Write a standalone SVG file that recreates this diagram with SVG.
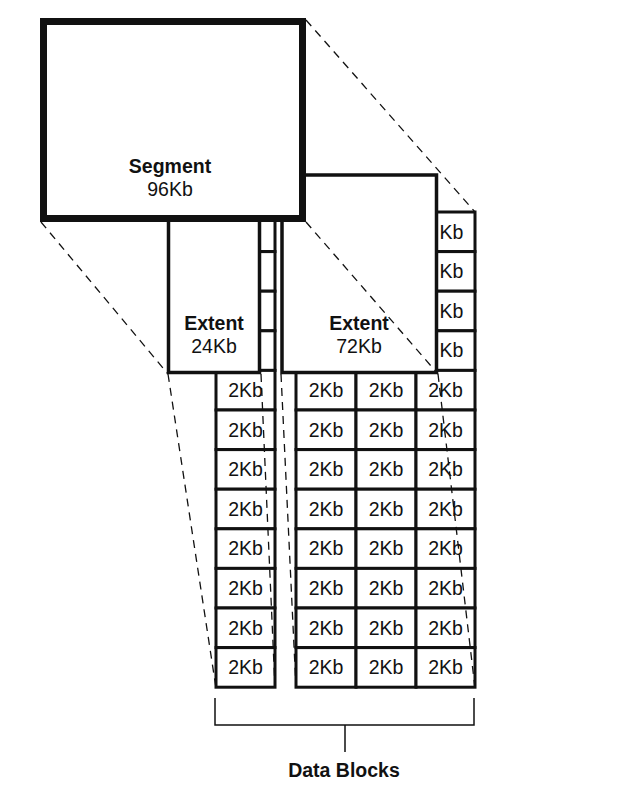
<svg xmlns="http://www.w3.org/2000/svg" width="640" height="786" viewBox="0 0 640 786">
<style>
.t{font-family:"Liberation Sans",Arial,sans-serif;font-size:19.5px;fill:#111;text-anchor:middle}
.s{text-anchor:start}
.b{font-weight:bold}
.cell{fill:#fff;stroke:#111;stroke-width:3}
.box{fill:#fff;stroke:#111;stroke-width:3.5}
.dash{fill:none;stroke:#111;stroke-width:1.3;stroke-dasharray:8 6}
</style>
<rect width="640" height="786" fill="#fff"/>
<g id="blocks-left">
<rect class="cell" x="216" y="212" width="59" height="39.6"/>
<rect class="cell" x="216" y="251.6" width="59" height="39.6"/>
<rect class="cell" x="216" y="291.2" width="59" height="39.6"/>
<rect class="cell" x="216" y="330.8" width="59" height="39.6"/>
<rect class="cell" x="216" y="370.4" width="59" height="39.6"/>
<rect class="cell" x="216" y="410" width="59" height="39.6"/>
<rect class="cell" x="216" y="449.6" width="59" height="39.6"/>
<rect class="cell" x="216" y="489.2" width="59" height="39.6"/>
<rect class="cell" x="216" y="528.8" width="59" height="39.6"/>
<rect class="cell" x="216" y="568.4" width="59" height="39.6"/>
<rect class="cell" x="216" y="608" width="59" height="39.6"/>
<rect class="cell" x="216" y="647.6" width="59" height="39.6"/>
<text class="t" x="245.5" y="397">2Kb</text>
<text class="t" x="245.5" y="436.6">2Kb</text>
<text class="t" x="245.5" y="476.2">2Kb</text>
<text class="t" x="245.5" y="515.8">2Kb</text>
<text class="t" x="245.5" y="555.4">2Kb</text>
<text class="t" x="245.5" y="595">2Kb</text>
<text class="t" x="245.5" y="634.6">2Kb</text>
<text class="t" x="245.5" y="674.2">2Kb</text>
</g>
<g id="blocks-right">
<rect class="cell" x="416" y="212" width="59" height="39.6"/>
<rect class="cell" x="416" y="251.6" width="59" height="39.6"/>
<rect class="cell" x="416" y="291.2" width="59" height="39.6"/>
<rect class="cell" x="416" y="330.8" width="59" height="39.6"/>
<rect class="cell" x="296" y="370.4" width="60" height="39.6"/><rect class="cell" x="356" y="370.4" width="60" height="39.6"/><rect class="cell" x="416" y="370.4" width="59" height="39.6"/>
<rect class="cell" x="296" y="410" width="60" height="39.6"/><rect class="cell" x="356" y="410" width="60" height="39.6"/><rect class="cell" x="416" y="410" width="59" height="39.6"/>
<rect class="cell" x="296" y="449.6" width="60" height="39.6"/><rect class="cell" x="356" y="449.6" width="60" height="39.6"/><rect class="cell" x="416" y="449.6" width="59" height="39.6"/>
<rect class="cell" x="296" y="489.2" width="60" height="39.6"/><rect class="cell" x="356" y="489.2" width="60" height="39.6"/><rect class="cell" x="416" y="489.2" width="59" height="39.6"/>
<rect class="cell" x="296" y="528.8" width="60" height="39.6"/><rect class="cell" x="356" y="528.8" width="60" height="39.6"/><rect class="cell" x="416" y="528.8" width="59" height="39.6"/>
<rect class="cell" x="296" y="568.4" width="60" height="39.6"/><rect class="cell" x="356" y="568.4" width="60" height="39.6"/><rect class="cell" x="416" y="568.4" width="59" height="39.6"/>
<rect class="cell" x="296" y="608" width="60" height="39.6"/><rect class="cell" x="356" y="608" width="60" height="39.6"/><rect class="cell" x="416" y="608" width="59" height="39.6"/>
<rect class="cell" x="296" y="647.6" width="60" height="39.6"/><rect class="cell" x="356" y="647.6" width="60" height="39.6"/><rect class="cell" x="416" y="647.6" width="59" height="39.6"/>
<text class="t s" x="439.5" y="238.6">Kb</text>
<text class="t s" x="439.5" y="278.2">Kb</text>
<text class="t s" x="439.5" y="317.8">Kb</text>
<text class="t s" x="439.5" y="357.4">Kb</text>
<g>
<text class="t" x="326" y="397">2Kb</text><text class="t" x="386" y="397">2Kb</text><text class="t" x="445.5" y="397">2Kb</text>
<text class="t" x="326" y="436.6">2Kb</text><text class="t" x="386" y="436.6">2Kb</text><text class="t" x="445.5" y="436.6">2Kb</text>
<text class="t" x="326" y="476.2">2Kb</text><text class="t" x="386" y="476.2">2Kb</text><text class="t" x="445.5" y="476.2">2Kb</text>
<text class="t" x="326" y="515.8">2Kb</text><text class="t" x="386" y="515.8">2Kb</text><text class="t" x="445.5" y="515.8">2Kb</text>
<text class="t" x="326" y="555.4">2Kb</text><text class="t" x="386" y="555.4">2Kb</text><text class="t" x="445.5" y="555.4">2Kb</text>
<text class="t" x="326" y="595">2Kb</text><text class="t" x="386" y="595">2Kb</text><text class="t" x="445.5" y="595">2Kb</text>
<text class="t" x="326" y="634.6">2Kb</text><text class="t" x="386" y="634.6">2Kb</text><text class="t" x="445.5" y="634.6">2Kb</text>
<text class="t" x="326" y="674.2">2Kb</text><text class="t" x="386" y="674.2">2Kb</text><text class="t" x="445.5" y="674.2">2Kb</text>
</g>
</g>
<g id="extent-24">
<rect class="box" x="168.5" y="205" width="91" height="167.5"/>
<text class="t b" x="214" y="330">Extent</text>
<text class="t" x="214" y="353">24Kb</text>
</g>
<g id="extent-72">
<rect class="box" x="282" y="175" width="154.5" height="197.5"/>
<text class="t b" x="359" y="330">Extent</text>
<text class="t" x="359" y="353">72Kb</text>
</g>
<g id="segment">
<rect x="43.5" y="21.5" width="259" height="197" fill="#fff" stroke="#111" stroke-width="7"/>
<text class="t b" x="170" y="173">Segment</text>
<text class="t" x="170" y="196">96Kb</text>
</g>
<g id="connectors">
<path class="dash" d="M306,20 L475,212"/>
<path class="dash" d="M41,222 L168,374"/>
<path class="dash" d="M306,222 L438,374"/>
<path class="dash" d="M168,374 L216,688"/>
<path class="dash" d="M261,374 L275,688"/>
<path class="dash" d="M281,374 L296,688"/>
<path class="dash" d="M438,374 L475,688"/>
</g>
<g id="data-blocks-label">
<path d="M215,698 V725 H474 V698 M345,725 V752" fill="none" stroke="#111" stroke-width="1.5"/>
<text class="t b" x="344" y="777">Data Blocks</text>
</g>
</svg>
